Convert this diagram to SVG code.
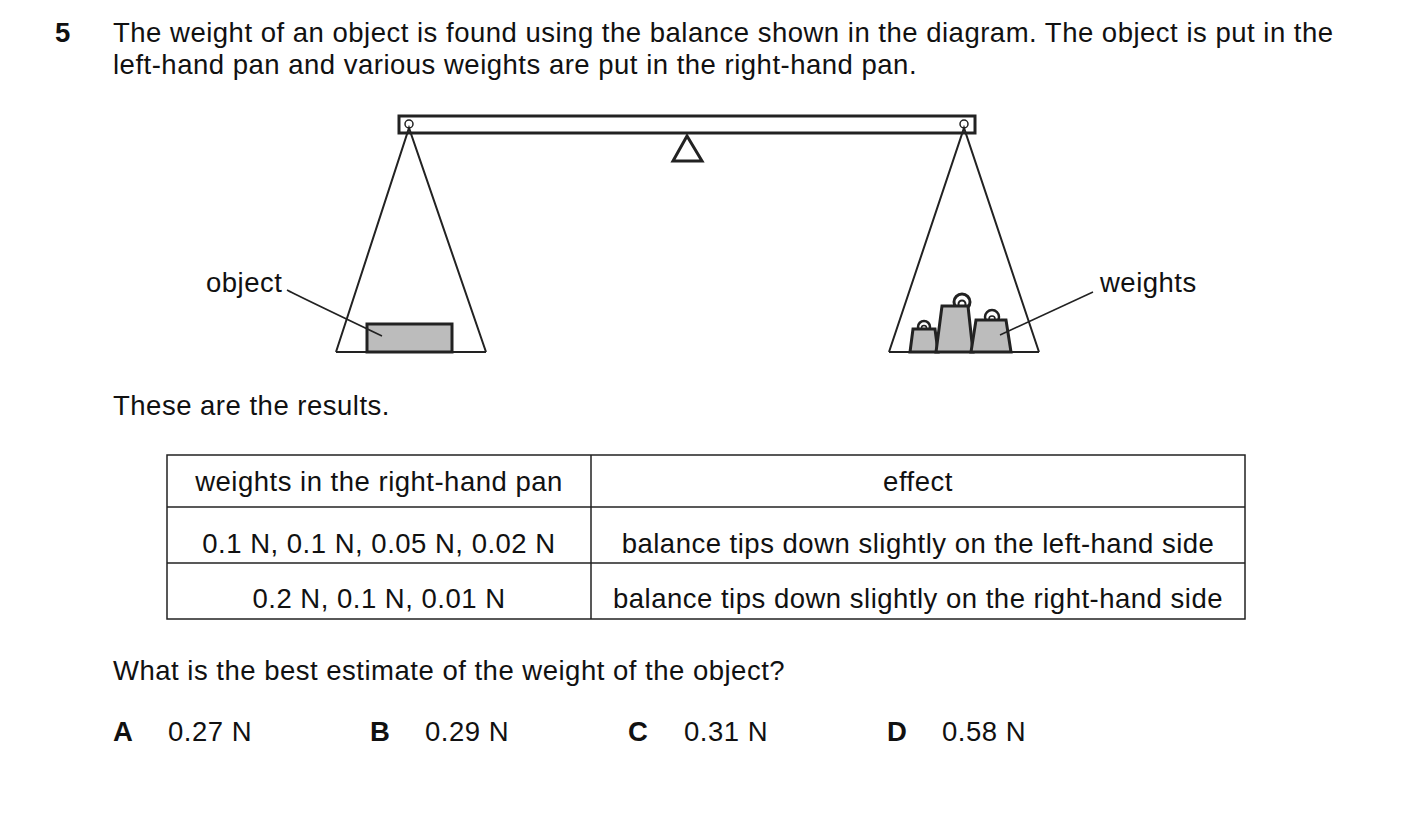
<svg xmlns="http://www.w3.org/2000/svg" width="1403" height="840" viewBox="0 0 1403 840">
<style>
text{font-family:"Liberation Sans",Arial,sans-serif;font-size:27.5px;fill:#111;letter-spacing:0.5px}
.l{fill:none;stroke:#222;stroke-width:2}
.w{fill:#bcbcbc;stroke:#222;stroke-width:3}
.t{stroke:#222;stroke-width:1.5;fill:none}
</style>
<rect width="1403" height="840" fill="#fff"/>
<text x="55" y="42" font-weight="bold">5</text>
<text x="113" y="42">The weight of an object is found using the balance shown in the diagram. The object is put in the</text>
<text x="113" y="74">left-hand pan and various weights are put in the right-hand pan.</text>
<g id="balance">
<rect x="399" y="116" width="576" height="17" fill="#fff" stroke="#222" stroke-width="3"/>
<polygon points="687,136 673,161 702,161" fill="#fff" stroke="#222" stroke-width="3"/>
<circle cx="409" cy="124" r="4" fill="#fff" stroke="#222" stroke-width="1.5"/>
<circle cx="964" cy="124" r="4" fill="#fff" stroke="#222" stroke-width="1.5"/>
</g>
<g id="left-pan">
<polyline class="l" points="336,352 409,128 486,352"/>
<line class="l" x1="336" y1="352" x2="486" y2="352"/>
<rect class="w" x="367" y="324" width="85" height="28"/>
</g>
<g id="right-pan">
<circle cx="924" cy="327" r="6" fill="#fff" stroke="#222" stroke-width="2.5"/><circle cx="924" cy="328" r="2.5" fill="none" stroke="#222" stroke-width="1.5"/>
<polygon class="w" points="910,352 938,352 935,329 913,329"/>
<circle cx="962" cy="302" r="8" fill="#fff" stroke="#222" stroke-width="3"/><circle cx="962" cy="304" r="3.5" fill="none" stroke="#222" stroke-width="2"/>
<polygon class="w" points="936,352 973,352 968,306 942,306"/>
<circle cx="992" cy="317" r="7" fill="#fff" stroke="#222" stroke-width="2.5"/><circle cx="992" cy="319" r="3" fill="none" stroke="#222" stroke-width="1.5"/>
<polygon class="w" points="971,352 1011,352 1006,320 976,320"/>
<polyline class="l" points="889,352 964,128 1039,352"/>
<line class="l" x1="889" y1="352" x2="1039" y2="352"/>
</g>
<g id="connectors">
<path class="t" d="M287,290 Q292,293 382,336"/>
<line class="t" x1="1000" y1="335" x2="1093" y2="292"/>
</g>
<text x="206" y="292">object</text>
<text x="1100" y="292">weights</text>
<text x="113" y="415">These are the results.</text>
<g id="table" fill="none" stroke="#222" stroke-width="1.5">
<rect x="167" y="455" width="1078" height="164"/>
<line x1="591" y1="455" x2="591" y2="619"/>
<line x1="167" y1="507" x2="1245" y2="507"/>
<line x1="167" y1="563" x2="1245" y2="563"/>
</g>
<g text-anchor="middle">
<text x="379" y="491">weights in the right-hand pan</text>
<text x="918" y="491">effect</text>
<text x="379" y="553">0.1 N, 0.1 N, 0.05 N, 0.02 N</text>
<text x="918" y="553">balance tips down slightly on the left-hand side</text>
<text x="379" y="608">0.2 N, 0.1 N, 0.01 N</text>
<text x="918" y="608">balance tips down slightly on the right-hand side</text>
</g>
<text x="113" y="680">What is the best estimate of the weight of the object?</text>
<text x="113" y="741" font-weight="bold">A</text><text x="168" y="741">0.27 N</text>
<text x="370" y="741" font-weight="bold">B</text><text x="425" y="741">0.29 N</text>
<text x="628" y="741" font-weight="bold">C</text><text x="684" y="741">0.31 N</text>
<text x="887" y="741" font-weight="bold">D</text><text x="942" y="741">0.58 N</text>
</svg>
